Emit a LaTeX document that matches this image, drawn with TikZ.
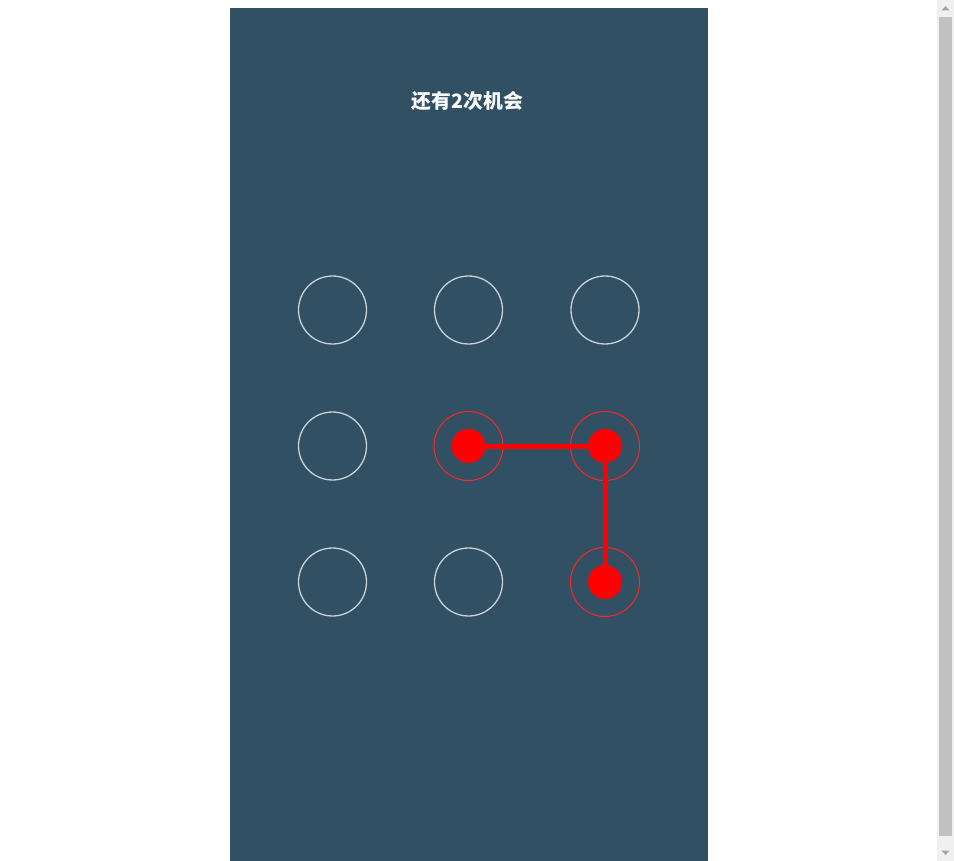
\documentclass[tikz,border=0pt]{standalone}
\usepackage{fontspec}
\newfontfamily\cjk{Noto Sans CJK SC}
\definecolor{panel}{RGB}{49,80,100}
\definecolor{ring}{RGB}{200,210,218}
\definecolor{hit}{RGB}{255,0,0}
\definecolor{track}{RGB}{240,240,240}
\definecolor{thumb}{RGB}{193,193,193}
\definecolor{arrowc}{RGB}{163,163,163}
\tikzset{
  pt/.style={circle, draw=ring, line width=1.3pt, minimum size=68pt, inner sep=0pt},
  ptsel/.style={circle, draw=hit!85!white, line width=1pt, minimum size=69pt, inner sep=0pt},
  dot/.style={circle, fill=hit, minimum size=34pt, inner sep=0pt},
  link/.style={draw=hit, line width=5pt},
}
\begin{document}
\begin{tikzpicture}[x=1pt,y=-1pt]
\useasboundingbox (0,0) rectangle (954,861);
\fill[white] (0,0) rectangle (954,861);
\fill[panel] (230,8) rectangle (708,861);
% scrollbar
\fill[track] (937,0) rectangle (954,861);
\fill[thumb] (939,17) rectangle (952,836);
\fill[arrowc] (941.5,10.5) -- (949.5,10.5) -- (945.5,6) -- cycle;
\fill[arrowc] (941.5,850.5) -- (949.5,850.5) -- (945.5,855) -- cycle;
% title
\node[text=white!90!ring, font=\cjk\bfseries\fontsize{19.8}{22}\selectfont] (title) at (467.5,101.5) {还有2次机会};
% grid
\node[pt] (p1) at (332.5,310) {};
\node[pt] (p2) at (468.5,310) {};
\node[pt] (p3) at (605,310) {};
\node[pt] (p4) at (332.5,446) {};
\node[ptsel] (p5) at (468.5,446) {};
\node[ptsel] (p6) at (605,446) {};
\node[pt] (p7) at (332.5,582) {};
\node[pt] (p8) at (468.5,582) {};
\node[ptsel] (p9) at (605,582) {};
\path[link] (p5.center) -- (p6.center) -- (p9.center);
\node[dot] (d5) at (p5.center) {};
\node[dot] (d6) at (p6.center) {};
\node[dot] (d9) at (p9.center) {};
\end{tikzpicture}
\end{document}
